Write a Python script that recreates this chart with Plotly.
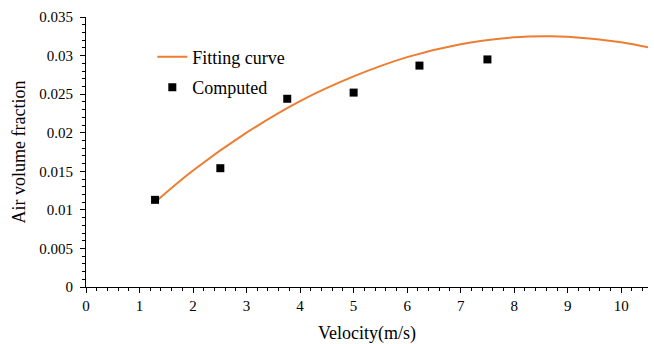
import plotly.graph_objects as go

# Computed points
velocity = [1.29, 2.51, 3.76, 5.0, 6.23, 7.5]
air_fraction = [0.0113, 0.0154, 0.0244, 0.0252, 0.0287, 0.0295]

# Fitting curve
fit_x = [1.29, 2, 3, 4, 5, 6, 7, 8, 8.6, 9, 10, 10.5]
fit_y = [0.0110, 0.0151, 0.0200, 0.0241, 0.0273, 0.0298, 0.03148, 0.03236, 0.03250, 0.03244, 0.03172, 0.03106]

font_family = "Liberation Serif"

fig = go.Figure()
fig.add_trace(go.Scatter(
    x=fit_x, y=fit_y, mode="lines", name="Fitting curve", legendgroup="a",
    line=dict(color="#ED7D31", width=2, shape="spline"),
))
fig.add_trace(go.Scatter(
    x=velocity, y=air_fraction, mode="markers", name="Computed", legendgroup="b",
    marker=dict(symbol="square", color="black", size=8),
))

fig.update_layout(
    width=654, height=344,
    margin=dict(l=86, r=6, t=17, b=57),
    paper_bgcolor="white", plot_bgcolor="white",
    font=dict(family=font_family, size=15, color="#000"),
    showlegend=True,
    legend=dict(x=0.118, y=0.92, xanchor="left", yanchor="top",
                bgcolor="rgba(0,0,0,0)", font=dict(size=18),
                traceorder="grouped", tracegroupgap=4),
)
fig.update_xaxes(
    range=[0, 10.5], tick0=0, dtick=1, automargin=False,
    showgrid=False, zeroline=False,
    showline=True, linecolor="#000", linewidth=1,
    ticks="outside", ticklen=5, tickcolor="#000", ticklabelstandoff=0,
    minor=dict(dtick=0.2, ticks="outside", ticklen=3, tickcolor="#000", showgrid=False),
    title=dict(text="Velocity(m/s)", standoff=16),
)
fig.update_yaxes(
    range=[0, 0.035], tick0=0, dtick=0.005, automargin=False,
    showgrid=False, zeroline=False,
    showline=True, linecolor="#000", linewidth=1,
    ticks="outside", ticklen=5, tickcolor="#000", ticklabelstandoff=4,
    minor=dict(dtick=0.001, ticks="outside", ticklen=3, tickcolor="#000", showgrid=False),
    title=dict(text="Air volume fraction", standoff=8),
)

fig.write_html("out.html")
